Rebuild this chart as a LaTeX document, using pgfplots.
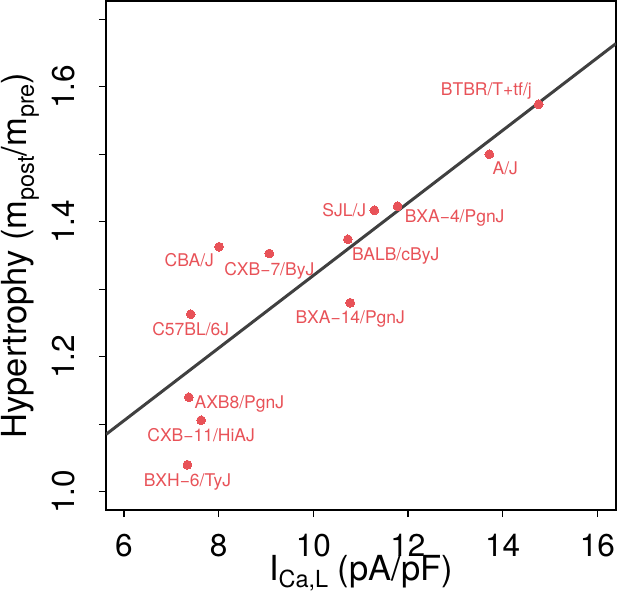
\documentclass[border=0pt]{standalone}
\usepackage{fontspec}
\setmainfont{TeX Gyre Heros}
\usepackage{pgfplots}
\pgfplotsset{compat=1.18}
\definecolor{ptred}{RGB}{232,82,88}
\definecolor{fitgray}{RGB}{64,64,64}
\newcommand{\sub}[1]{\raisebox{-7pt}{\fontsize{23.5}{26}\selectfont #1}}
\begin{document}
\begin{tikzpicture}[lab/.style={text=ptred, inner sep=0pt, font=\fontsize{17.5}{20}\selectfont}]
\useasboundingbox (-106pt,-82pt) rectangle (511pt,510pt);
\begin{axis}[
  at={(0,0)}, anchor=south west,
  scale only axis, width=510pt, height=509pt,
  xmin=5.62, xmax=16.395, ymin=0.973, ymax=1.727,
  axis line style={line width=1.3pt},
  every tick/.style={black, line width=1.3pt},
  tick align=outside, tick pos=left,
  major tick length=7pt,
  xtick={6,8,10,12,14,16},
  xticklabels={6,8,10,12,14,16},
  ytick={1.0,1.1,1.2,1.3,1.4,1.5,1.6,1.7},
  yticklabels={1.0,,1.2,,1.4,,1.6,},
  xticklabel style={font=\fontsize{31.5}{36}\selectfont, anchor=base, inner sep=0pt, yshift=-39.3pt},
  yticklabel style={font=\fontsize{31.5}{36}\selectfont, xshift=-24pt, rotate=90, anchor=base, inner sep=0pt},
  xlabel={I\sub{Ca,L} (pA/pF)},
  ylabel={Hypertrophy (m\sub{post}/m\sub{pre})},
  xlabel style={font=\fontsize{34.5}{38}\selectfont, at={(axis description cs:0.5,0)}, anchor=base, inner sep=0pt, yshift=-70pt},
  ylabel style={font=\fontsize{34.5}{38}\selectfont, at={([xshift=-79pt]axis description cs:0,0.5)}, anchor=base, inner sep=0pt},
  clip=true,
]
\addplot[only marks, mark=*, mark size=4.4pt, mark options={fill=ptred, draw=ptred, line width=0pt}] coordinates {
  (14.76,1.574) (13.72,1.500) (11.29,1.417) (11.78,1.423) (10.73,1.374)
  (8.01,1.363) (9.07,1.353) (10.78,1.280) (7.41,1.263) (7.37,1.140)
  (7.63,1.106) (7.34,1.040)
};
\addplot[fitgray, line width=3pt] coordinates {(5.62,1.085) (16.395,1.664)};
\node[lab, anchor=base east] at ([xshift=-6.6pt,yshift=8.3pt]axis cs:14.76,1.574) {BTBR/T+tf/j};
\node[lab, anchor=base west] at ([xshift=3pt,yshift=-20.7pt]axis cs:13.72,1.500) {A/J};
\node[lab, anchor=base east] at ([xshift=-8pt,yshift=-6pt]axis cs:11.29,1.417) {SJL/J};
\node[lab, anchor=base west] at ([xshift=7pt,yshift=-16.7pt]axis cs:11.78,1.423) {BXA−4/PgnJ};
\node[lab, anchor=base west] at ([xshift=4pt,yshift=-21pt]axis cs:10.73,1.374) {BALB/cByJ};
\node[lab, anchor=base east] at ([xshift=-5pt,yshift=-20pt]axis cs:8.01,1.363) {CBA/J};
\node[lab, anchor=base] at ([yshift=-21.7pt]axis cs:9.07,1.353) {CXB−7/ByJ};
\node[lab, anchor=base] at ([yshift=-20.7pt]axis cs:10.78,1.280) {BXA−14/PgnJ};
\node[lab, anchor=base] at ([yshift=-21pt]axis cs:7.41,1.263) {C57BL/6J};
\node[lab, anchor=base west] at ([xshift=5.6pt,yshift=-11.3pt]axis cs:7.37,1.140) {AXB8/PgnJ};
\node[lab, anchor=base] at ([yshift=-21.4pt]axis cs:7.63,1.106) {CXB−11/HiAJ};
\node[lab, anchor=base] at ([yshift=-21.7pt]axis cs:7.34,1.040) {BXH−6/TyJ};
\end{axis}
\end{tikzpicture}
\end{document}
